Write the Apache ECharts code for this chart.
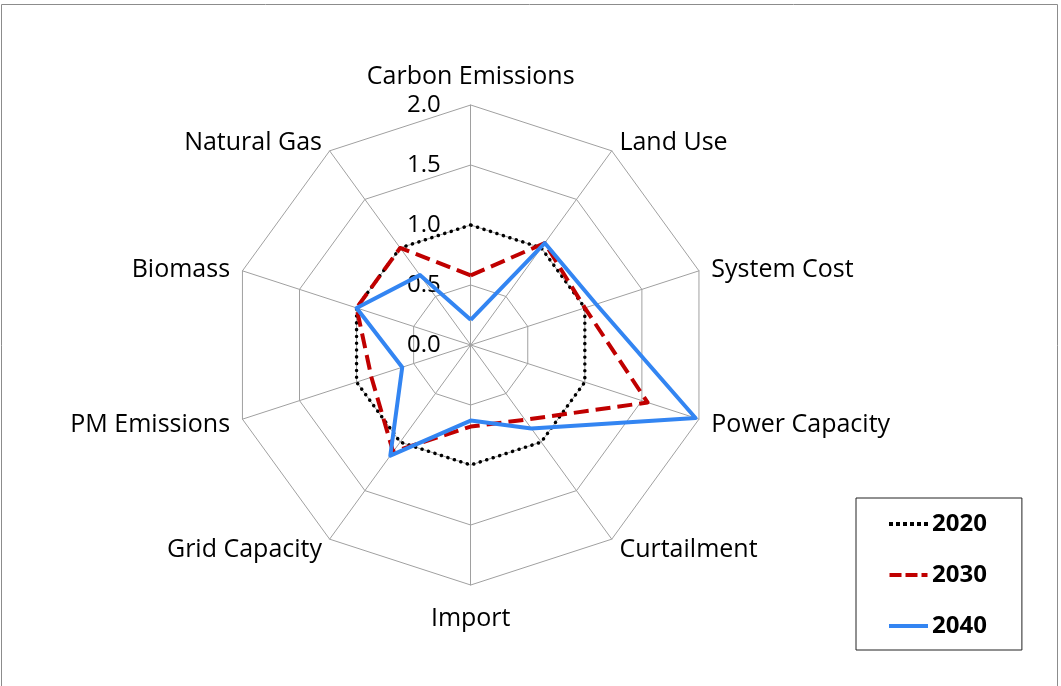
<!DOCTYPE html>
<html>
<head>
<meta charset="utf-8">
<script src="https://cdn.jsdelivr.net/npm/echarts@6/dist/echarts.min.js"></script>
<style>
  html, body { margin: 0; padding: 0; background: #fff; }
  #chart { width: 1061px; height: 686px; }
</style>
</head>
<body>
<div id="chart"></div>
<script>
// axes in the order they appear clockwise from the top
const axisNames = ['Carbon Emissions', 'Land Use', 'System Cost', 'Power Capacity', 'Curtailment',
                   'Import', 'Grid Capacity', 'PM Emissions', 'Biomass', 'Natural Gas'];
const seriesNames = ['2020', '2030', '2040'];
const values2020 = [1.0, 1.0, 1.0, 1.0, 1.0, 1.0, 1.0, 1.0, 1.0, 1.0];
const values2030 = [0.58, 1.05, 1.0, 1.55, 0.77, 0.68, 1.1, 0.87, 1.0, 1.0];
const values2040 = [0.21, 1.05, 1.1, 1.97, 0.86, 0.63, 1.14, 0.6, 1.0, 0.72];
const axisMax = 2;

// echarts lays indicators out counter-clockwise, so flip everything after the first
const flip = arr => [arr[0]].concat(arr.slice(1).reverse());

const FONT = '"Open Sans", sans-serif';
const NAME_SIZE = 25;

const chart = echarts.init(document.getElementById('chart'));

const indicators = flip(axisNames).map((name, i) => ({
    name: name,
    min: 0,
    max: axisMax,
    axisLabel: { show: i === 0 }
}));

// small nudges so the axis names sit where excel put them
const nameStyle = pad => ({ fontFamily: FONT, fontSize: NAME_SIZE, color: '#000', padding: pad });

chart.setOption({
    animation: false,
    graphic: [{
        type: 'rect',
        shape: { x: 1.5, y: 4.5, width: 1056, height: 720 },
        style: { fill: 'none', stroke: '#8c8c8c', lineWidth: 1 },
        silent: true
    }],
    legend: {
        orient: 'vertical',
        left: 856,
        top: 498,
        width: 167,
        padding: [14, 35, 12, 33],
        itemGap: 27,
        itemWidth: 39,
        itemHeight: 4,
        borderColor: '#222',
        borderWidth: 1,
        textStyle: { fontFamily: FONT, fontSize: 24, fontWeight: 'bold', color: '#000', padding: [0, 0, 0, -1] },
        data: [
            { name: '2020', icon: 'path://M0,0h4v4h-4zM7,0h4v4h-4zM14,0h4v4h-4zM21,0h4v4h-4zM28,0h4v4h-4zM35,0h4v4h-4z' },
            { name: '2030', icon: 'path://M0,0h12v4h-12zM16,0h12v4h-12zM32,0h6v4h-6z' },
            { name: '2040', icon: 'path://M0,0h39v4h-39z' }
        ]
    },
    radar: {
        center: [470.7, 345],
        radius: 240,
        startAngle: 90,
        splitNumber: 4,
        shape: 'polygon',
        nameGap: 13,
        axisName: {
            color: '#000',
            fontFamily: FONT,
            fontSize: NAME_SIZE,
            formatter: function (name) {
                if (name === 'Carbon Emissions') return '{top|' + name + '}';
                if (name === 'Import') return '{bottom|' + name + '}';
                if (name === 'Curtailment' || name === 'Grid Capacity') return '{plain|' + name + '}';
                if (name === 'Power Capacity' || name === 'PM Emissions') return '{low|' + name + '}';
                return '{mid|' + name + '}';
            },
            rich: {
                top: nameStyle([0, 0, 3, 0]),
                bottom: nameStyle([8, 0, 0, 0]),
                plain: nameStyle([0, 0, 0, 0]),
                low: nameStyle([4, 0, 0, 0]),
                mid: nameStyle([6, 0, 0, 0])
            }
        },
        axisLine: { lineStyle: { color: '#a0a0a0', width: 1 } },
        splitLine: { lineStyle: { color: '#a0a0a0', width: 1 } },
        splitArea: { show: false },
        axisTick: { show: false },
        axisLabel: {
            color: '#000',
            fontFamily: FONT,
            fontSize: 24,
            margin: 30,
            showMinLabel: true,
            showMaxLabel: true,
            formatter: v => v.toFixed(1)
        },
        indicator: indicators
    },
    series: [{
        type: 'radar',
        symbol: 'none',
        data: [
            {
                name: seriesNames[0],
                value: flip(values2020),
                itemStyle: { color: '#000' },
                lineStyle: { color: '#000', width: 3.5, type: [0.1, 6.7], cap: 'round' }
            },
            {
                name: seriesNames[1],
                value: flip(values2030),
                itemStyle: { color: '#c00000' },
                lineStyle: { color: '#c00000', width: 4, type: [15, 7] }
            },
            {
                name: seriesNames[2],
                value: flip(values2040),
                itemStyle: { color: '#3385f2' },
                lineStyle: { color: '#3385f2', width: 4, type: 'solid' }
            }
        ]
    }]
});
</script>
</body>
</html>
